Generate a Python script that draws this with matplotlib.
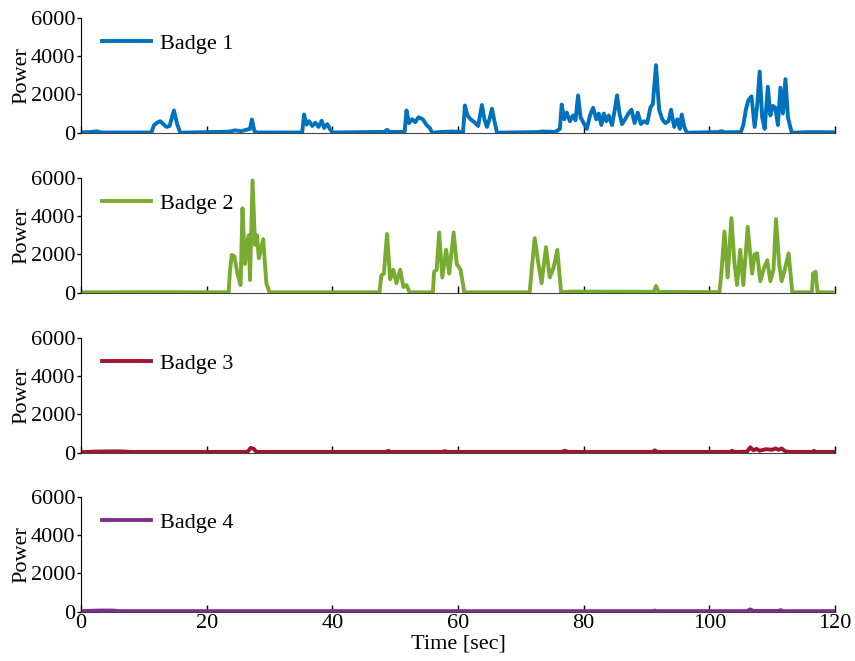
import matplotlib
matplotlib.use('Agg')
import matplotlib.pyplot as plt

# (time [sec], power), one list per badge
badge1 = [(0, 20), (1.5, 30), (2.5, 70), (3.3, 10), (11.2, 10), (11.6, 380), (12.1, 520), (12.6, 600),
    (13.1, 450), (13.6, 300), (14.1, 350), (14.8, 1160), (15.3, 450), (15.8, 0),
    (23.5, 50), (24.5, 120), (25.5, 80), (26.3, 150), (26.9, 200), (27.2, 690), (27.6, 80), (28, 10),
    (35.2, 10), (35.5, 950), (35.9, 420), (36.3, 600), (36.8, 350), (37.3, 520), (37.8, 300), (38.3, 620),
    (38.7, 250), (39.2, 450), (39.6, 200), (40.0, 10),
    (48.3, 40), (48.7, 150), (49.1, 40), (51.5, 40), (51.8, 1160), (52.2, 500), (52.7, 700), (53.2, 550),
    (53.7, 800), (54.4, 700), (55.0, 400), (55.5, 250), (55.9, 0),
    (57.5, 40), (59.0, 60), (60.8, 40), (61.1, 1420), (61.5, 900), (62.0, 700), (62.6, 550), (63.2, 350),
    (63.8, 1450), (64.2, 700), (64.6, 300), (65.0, 700), (65.4, 1250), (65.8, 600), (66.2, 0),
    (72.5, 30), (73.5, 60), (75.5, 40), (76.2, 200), (76.5, 1470), (76.9, 700), (77.3, 1050), (77.8, 600),
    (78.3, 900), (78.7, 650), (79.1, 1950), (79.5, 800), (80.0, 500), (80.5, 200), (81.0, 900), (81.5, 1300),
    (82.0, 700), (82.4, 1000), (82.8, 400), (83.2, 1000), (83.6, 600), (84.0, 900), (84.5, 400), (85.0, 1300),
    (85.3, 1950), (85.7, 1000), (86.1, 450), (86.6, 700), (87.1, 1000), (87.6, 1200), (88.1, 500), (88.6, 1050),
    (89.1, 450), (89.6, 600), (90.1, 500), (90.6, 1300), (91.0, 1500), (91.5, 3530), (92.0, 1200), (92.5, 700),
    (93.0, 500), (93.5, 600), (93.9, 1200), (94.4, 300), (94.9, 700), (95.3, 200), (95.6, 950), (96.0, 300),
    (96.4, 0),
    (101.4, 30), (101.9, 80), (102.4, 20), (105.0, 30), (105.4, 400), (105.8, 1200), (106.2, 1700),
    (106.7, 1900), (107.2, 300), (107.6, 1400), (108.0, 3200), (108.4, 800), (108.8, 200), (109.3, 2400),
    (109.7, 900), (110.1, 1400), (110.5, 1300), (110.9, 400), (111.3, 2350), (111.7, 1000), (112.1, 2800),
    (112.5, 800), (113.1, 0), (116.0, 30), (120, 20)]

badge2 = [(0, 20), (10, 30), (23.5, 20), (23.7, 1100), (24.0, 1980), (24.4, 1900), (24.9, 1000), (25.4, 400),
    (25.7, 4420), (26.1, 1500), (26.4, 2500), (26.7, 3000), (26.9, 660), (27.3, 5870), (27.7, 2500),
    (28.0, 3000), (28.3, 1800), (29.0, 2800), (29.5, 500), (30.0, 20),
    (47.5, 20), (47.8, 900), (48.2, 1000), (48.7, 3070), (49.2, 700), (49.7, 1200), (50.2, 500), (50.8, 1200),
    (51.3, 300), (51.8, 400), (52.3, 20),
    (56.0, 20), (56.2, 1100), (56.6, 1200), (57.0, 3150), (57.5, 800), (58.1, 2250), (58.6, 1000),
    (59.3, 3150), (59.8, 1500), (60.4, 1200), (61.0, 20),
    (71.4, 20), (71.8, 1500), (72.2, 2850), (72.8, 1500), (73.3, 500), (74.0, 2380), (74.6, 800),
    (75.2, 1300), (75.8, 2240), (76.4, 20),
    (78, 60), (85, 50), (91.2, 50), (91.5, 350), (91.9, 40),
    (101.6, 30), (101.9, 1000), (102.4, 3200), (102.9, 800), (103.5, 3900), (104.0, 1500), (104.4, 400),
    (104.9, 2240), (105.4, 400), (106.1, 3450), (106.5, 2000), (106.8, 1000), (107.2, 2000), (107.6, 2060),
    (108.1, 600), (108.6, 1200), (109.2, 1700), (109.7, 600), (110.2, 1200), (110.6, 3850), (111.1, 1500),
    (111.5, 600), (112.0, 1200), (112.6, 2060), (113.2, 20),
    (116.3, 20), (116.5, 1000), (116.9, 1100), (117.2, 20), (120, 20)]

badge3 = [(0, 30), (3, 60), (6, 70), (8, 40), (26.5, 40), (27.0, 250), (27.5, 200), (27.9, 40),
    (48.5, 40), (48.9, 90), (49.3, 40), (57.5, 40), (57.9, 80), (58.3, 40), (76.5, 40), (77, 100), (77.5, 40),
    (91, 40), (91.3, 120), (91.7, 40), (103.3, 40), (103.6, 100), (104, 40), (106, 50), (106.5, 280),
    (107, 120), (107.5, 200), (108, 100), (109, 180), (110, 150), (110.5, 220), (111, 150), (111.5, 220),
    (112, 80), (112.6, 40), (116.3, 40), (116.6, 90), (117, 40), (120, 40)]

badge4 = [(0, 30), (3, 60), (5, 60), (6, 30), (91, 30), (91.3, 60), (91.6, 30), (106, 30), (106.5, 120),
    (107, 40), (111, 40), (111.3, 80), (111.7, 30), (120, 30)]

labels = ['Badge 1', 'Badge 2', 'Badge 3', 'Badge 4']
colors = ['#0072BD', '#77AC30', '#A2142F', '#7E2F8E']
x_ticks = [0, 20, 40, 60, 80, 100, 120]
y_ticks = [0, 2000, 4000, 6000]

plt.rcParams['font.family'] = ['Liberation Serif', 'DejaVu Serif']
plt.rcParams['font.size'] = 16

fig = plt.figure(figsize = (8.55, 6.61), dpi = 100)
tops = [0.9728, 0.7307, 0.4887, 0.2481]
height = 0.1735
for i, data in enumerate([badge1, badge2, badge3, badge4]):
    ax = fig.add_axes([0.0947, tops[i] - height, 0.882, height])
    t = [p[0] for p in data]
    v = [p[1] for p in data]
    ax.plot(t, v, color = colors[i], lw = 2.8, label = labels[i], solid_joinstyle = 'round')
    ax.set_xlim(0, 120)
    ax.set_ylim(0, 6000)
    ax.set_xticks(x_ticks)
    ax.set_yticks(y_ticks)
    ax.spines['top'].set_visible(False)
    ax.spines['right'].set_visible(False)
    ax.spines['bottom'].set_color('#444444')
    ax.tick_params(axis = 'x', direction = 'in', length = 5, width = 1, labelsize = 16, pad = 2)
    ax.tick_params(axis = 'y', direction = 'out', length = 3, width = 1, labelsize = 16, pad = 1)
    if i < 3:
        ax.tick_params(axis = 'x', labelbottom = False)
    else:
        ax.set_xlabel('Time [sec]', fontsize = 16, labelpad = 1)
    ax.set_ylabel('Power', fontsize = 16, labelpad = 0)
    ax.legend(loc = 'upper left', frameon = False, handlelength = 2.2, handletextpad = 0.4,
        borderaxespad = 0.3, fontsize = 16, bbox_to_anchor = (0.007, 1.0))

plt.savefig('out.png', dpi = 100)
